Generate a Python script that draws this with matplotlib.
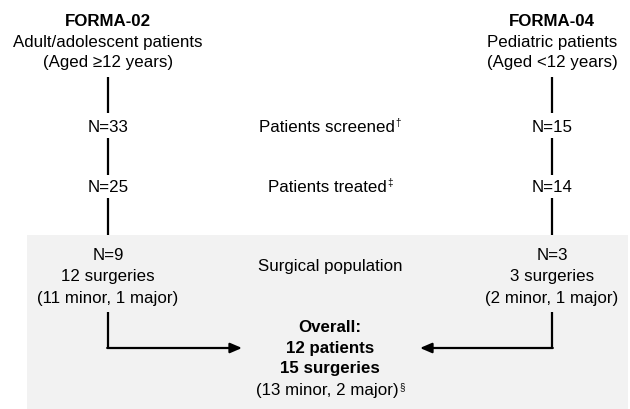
import matplotlib.pyplot as plt
from matplotlib.patches import Rectangle

plt.rcParams['font.family'] = ['Liberation Sans', 'DejaVu Sans']

# column headers
studies = ["FORMA-02", "FORMA-04"]
groups = ["Adult/adolescent patients", "Pediatric patients"]
ages = ["(Aged \u226512 years)", "(Aged <12 years)"]

# flow counts per study
screened = [33, 15]
treated = [25, 14]
surg_patients = [9, 3]
surgeries = [12, 3]
minor = [11, 2]
major = [1, 1]

# middle labels and footnote marks
stage_labels = ["Patients screened", "Patients treated", "Surgical population"]
stage_marks = ["\u2020", "\u2021", ""]
overall_patients = 12
overall_surgeries = 15
overall_minor = 13
overall_major = 2

W, H = 630, 409
fig = plt.figure(figsize=(W / 100, H / 100), dpi=100)
ax = fig.add_axes([0, 0, 1, 1])
ax.set_xlim(0, W)
ax.set_ylim(H, 0)
ax.axis('off')

fs = 12.2
col_x = [108, 552]
mid_x = 330

# grey surgical-population panel
ax.add_patch(Rectangle((27, 235), 601, 174, facecolor='#f2f2f2', edgecolor='none', zorder=0))


def sup(artist, mark):
    if mark:
        ax.annotate(mark, xy=(1, 1), xycoords=artist, xytext=(0.5, 1),
                    textcoords='offset points', ha='left', va='top', fontsize=7)


for i, x in enumerate(col_x):
    ax.text(x, 22, studies[i], ha='center', va='center', fontsize=fs, fontweight='bold')
    ax.text(x, 42, groups[i], ha='center', va='center', fontsize=fs)
    ax.text(x, 63, ages[i], ha='center', va='center', fontsize=fs)
    ax.text(x, 127, f"N={screened[i]}", ha='center', va='center', fontsize=fs)
    ax.text(x, 187, f"N={treated[i]}", ha='center', va='center', fontsize=fs)
    ax.text(x, 256, f"N={surg_patients[i]}", ha='center', va='center', fontsize=fs)
    ax.text(x, 277, f"{surgeries[i]} surgeries", ha='center', va='center', fontsize=fs)
    ax.text(x, 298, f"({minor[i]} minor, {major[i]} major)", ha='center', va='center', fontsize=fs)
    # connecting vertical lines
    for y0, y1 in [(77, 113), (138, 175), (198, 235), (312, 348)]:
        ax.plot([x, x], [y0, y1], color='black', lw=1.6, solid_capstyle='butt')

# arrows into the overall box
for x, tip in [(col_x[0], 242), (col_x[1], 420)]:
    ax.annotate('', xy=(tip, 348), xytext=(x - (0.8 if x < mid_x else -0.8), 348),
                arrowprops=dict(arrowstyle='-|>,head_length=0.7,head_width=0.3',
                                color='black', lw=1.6, shrinkA=0, shrinkB=0))

for label, mark, y in zip(stage_labels, stage_marks, [127, 187, 267]):
    # labels with a footnote mark are nudged left so the whole group stays centred
    t = ax.text(mid_x - (3 if mark else 0), y, label, ha='center', va='center', fontsize=fs)
    sup(t, mark)

ax.text(mid_x, 328, "Overall:", ha='center', va='center', fontsize=fs, fontweight='bold')
ax.text(mid_x, 348, f"{overall_patients} patients", ha='center', va='center', fontsize=fs, fontweight='bold')
ax.text(mid_x, 369, f"{overall_surgeries} surgeries", ha='center', va='center', fontsize=fs, fontweight='bold')
t = ax.text(mid_x - 3, 391, f"({overall_minor} minor, {overall_major} major)", ha='center', va='center', fontsize=fs)
sup(t, "\u00a7")

fig.savefig('out.png', dpi=100)
